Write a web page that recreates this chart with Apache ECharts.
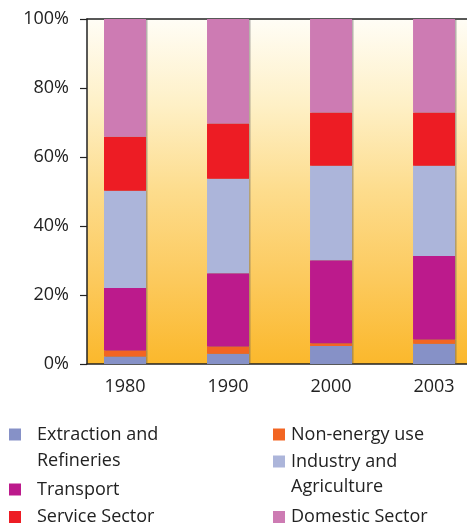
<!DOCTYPE html>
<html>
<head>
<meta charset="utf-8">
<script src="https://cdn.jsdelivr.net/npm/echarts@6/dist/echarts.min.js"></script>
<style>html,body{margin:0;padding:0;background:#fff;}#c{width:467px;height:526px;}</style>
</head>
<body>
<div id="c"></div>
<script>
var categories = ['1980', '1990', '2000', '2003'];
var extraction = [2.2, 3.0, 5.2, 5.9];
var nonEnergy = [1.7, 2.1, 0.8, 1.2];
var transport = [18.1, 21.2, 24.1, 24.2];
var industry = [28.2, 27.4, 27.4, 26.2];
var service = [15.7, 16.0, 15.4, 15.4];
var domestic = [34.1, 30.3, 27.1, 27.1];
var yTicks = [0, 20, 40, 60, 80, 100];

var seriesDefs = [
  {name: 'Extraction and Refineries', data: extraction, color: '#8691C7', label: ' \nExtraction and\nRefineries'},
  {name: 'Non-energy use', data: nonEnergy, color: '#F26522', label: 'Non-energy use'},
  {name: 'Transport', data: transport, color: '#BC1A8C', label: 'Transport'},
  {name: 'Industry and Agriculture', data: industry, color: '#ACB5DA', label: ' \nIndustry and\nAgriculture'},
  {name: 'Service Sector', data: service, color: '#ED1C24', label: 'Service Sector'},
  {name: 'Domestic Sector', data: domestic, color: '#CD7BB3', label: 'Domestic Sector'}
];
var labelMap = {};
seriesDefs.forEach(function (s) { labelMap[s.name] = s.label; });

var font = '"Open Sans", sans-serif';
var xMin = -0.369, xMax = 3.32;

function mkLegend(name, left, top, padLeft, lh) {
  return {
    data: [name], left: left, top: top, padding: 0, orient: 'horizontal',
    itemWidth: 12, itemHeight: 12, itemGap: 0, selectedMode: false,
    icon: 'rect',
    formatter: function (n) { return labelMap[n]; },
    textStyle: {
      fontFamily: font, fontSize: 18, color: '#222', lineHeight: lh || 26,
      padding: [0, 0, 0, padLeft]
    }
  };
}

var chart = echarts.init(document.getElementById('c'), null, {renderer: 'canvas'});
chart.setOption({
  animation: false,
  backgroundColor: '#fff',
  grid: {
    left: 87, top: 19, bottom: 162, right: 0,
    show: true, borderWidth: 0, borderColor: 'transparent',
    backgroundColor: {
      type: 'linear', x: 0, y: 0, x2: 0, y2: 1,
      colorStops: [
        {offset: 0, color: '#FFFDF6'},
        {offset: 0.25, color: '#FEF0C6'},
        {offset: 0.5, color: '#FDDC8C'},
        {offset: 0.75, color: '#FCCA5E'},
        {offset: 1, color: '#FBB82C'}
      ]
    }
  },
  xAxis: [{
    type: 'value', min: xMin, max: xMax,
    axisLine: {show: true, lineStyle: {color: '#222', width: 1.5}},
    axisTick: {show: false},
    splitLine: {show: false},
    axisLabel: {
      customValues: [0, 1, 2, 3],
      formatter: function (v) { return categories[Math.round(v)]; },
      fontFamily: font, fontSize: 18, color: '#222', margin: 14
    }
  }, {
    type: 'value', position: 'top', min: xMin, max: xMax,
    axisLine: {show: true, onZero: false, lineStyle: {color: '#222', width: 1.5}},
    axisTick: {show: false}, axisLabel: {show: false}, splitLine: {show: false}
  }],
  yAxis: {
    type: 'value', min: 0, max: 100, interval: 20,
    axisLine: {show: true, onZero: false, lineStyle: {color: '#222', width: 1.5}},
    axisTick: {show: true, length: 7, lineStyle: {color: '#222', width: 1.2}},
    splitLine: {show: false},
    axisLabel: {
      formatter: function (v) { return yTicks.indexOf(v) >= 0 ? v + '%' : ''; },
      fontFamily: font, fontSize: 18, color: '#222', margin: 18
    }
  },
  legend: [
    mkLegend('Extraction and Refineries', 9, 395.5, 11),
    mkLegend('Transport', 9, 476.5, 11),
    mkLegend('Service Sector', 9, 504, 11),
    mkLegend('Non-energy use', 273, 421.5, 1),
    mkLegend('Industry and Agriculture', 273, 424, 1, 25),
    mkLegend('Domestic Sector', 273, 504, 1)
  ],
  series: seriesDefs.map(function (s) {
    return {
      type: 'bar', name: s.name, stack: 'total', barWidth: 42,
      xAxisIndex: 0, yAxisIndex: 0,
      encode: {x: 1, y: 0},
      itemStyle: {color: s.color, shadowColor: 'rgba(90,90,90,0.45)', shadowOffsetX: 1.5, shadowBlur: 0},
      data: s.data.map(function (v, i) { return [v, i]; })
    };
  })
});
</script>
</body>
</html>
